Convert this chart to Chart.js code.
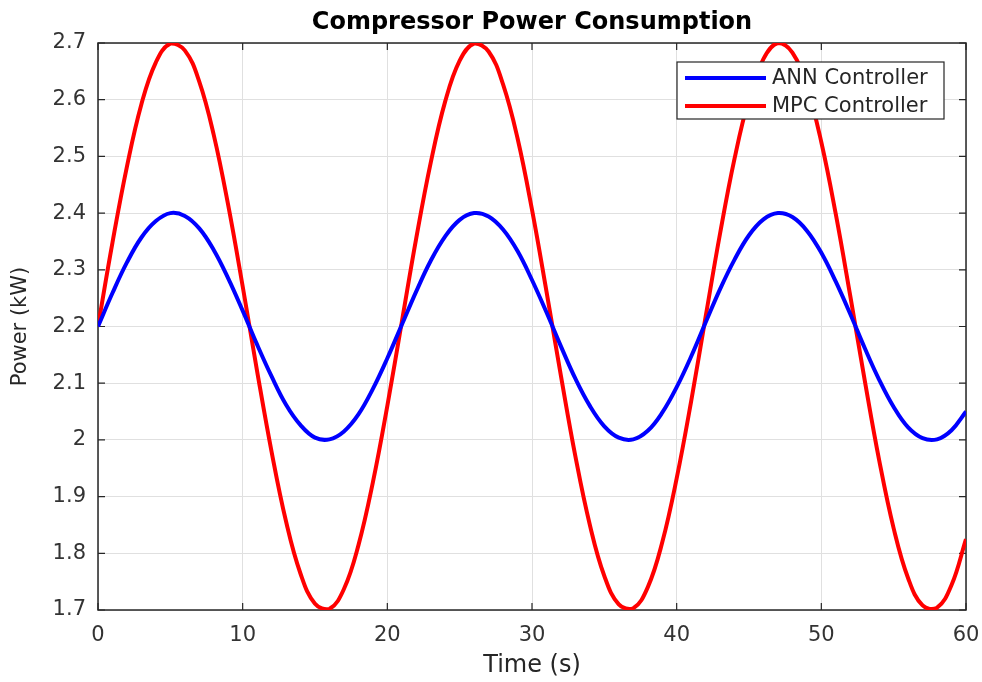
<!DOCTYPE html>
<html>
<head>
<meta charset="utf-8">
<script src="https://cdn.jsdelivr.net/npm/chart.js@4"></script>
<style>
  html, body { margin: 0; padding: 0; background: #fff; }
  #wrap { width: 982px; height: 682px; }
</style>
</head>
<body>
<div id="wrap"><canvas id="powerChart" width="982" height="682"></canvas></div>
<script>
// time axis (s), one sample per second
const timeSec = [];
for (let t = 0; t <= 60; t++) timeSec.push(t);

const annPower = [
  2.200, 2.259, 2.313, 2.357, 2.386, 2.400, 2.395, 2.373, 2.335, 2.285,
  2.228, 2.168, 2.112, 2.062, 2.026, 2.004, 2.001, 2.015, 2.045, 2.090,
  2.144, 2.203, 2.262, 2.316, 2.359, 2.388, 2.400, 2.394, 2.371, 2.333,
  2.282, 2.225, 2.165, 2.108, 2.060, 2.024, 2.004, 2.001, 2.016, 2.048,
  2.093, 2.147, 2.207, 2.266, 2.318, 2.361, 2.389, 2.400, 2.393, 2.369,
  2.330, 2.279, 2.222, 2.162, 2.106, 2.058, 2.022, 2.003, 2.001, 2.017,
  2.050
];
const mpcPower = [
  2.200, 2.348, 2.482, 2.592, 2.666, 2.699, 2.687, 2.632, 2.538, 2.414,
  2.271, 2.121, 1.979, 1.856, 1.764, 1.711, 1.702, 1.737, 1.814, 1.925,
  2.060, 2.208, 2.356, 2.489, 2.597, 2.669, 2.699, 2.685, 2.627, 2.532,
  2.406, 2.262, 2.113, 1.971, 1.850, 1.760, 1.710, 1.703, 1.740, 1.819,
  1.932, 2.068, 2.217, 2.364, 2.496, 2.602, 2.672, 2.700, 2.683, 2.623,
  2.525, 2.398, 2.254, 2.105, 1.964, 1.844, 1.756, 1.708, 1.704, 1.744,
  1.825
];

const seriesLabels = ['ANN Controller', 'MPC Controller'];
const seriesColors = ['#0000ff', '#ff0000'];
const chartTitle = 'Compressor Power Consumption';

const FONT = "'DejaVu Sans', 'Liberation Sans', Arial, sans-serif";
const AXIS_COLOR = '#262626';

function toPoints(ys) {
  return ys.map((y, i) => ({ x: timeSec[i], y: y }));
}

// box, inward ticks (below the curves)
const matlabBox = {
  id: 'matlabBox',
  beforeDatasetsDraw(chart) {
    const { ctx, chartArea: a, scales } = chart;
    const len = 7;
    ctx.save();
    ctx.strokeStyle = AXIS_COLOR;
    ctx.lineWidth = 1.5;
    ctx.strokeRect(a.left, a.top, a.right - a.left, a.bottom - a.top);
    ctx.lineWidth = 1.2;
    ctx.beginPath();
    scales.x.ticks.forEach(tk => {
      const px = scales.x.getPixelForValue(tk.value);
      ctx.moveTo(px, a.bottom); ctx.lineTo(px, a.bottom - len);
      ctx.moveTo(px, a.top); ctx.lineTo(px, a.top + len);
    });
    scales.y.ticks.forEach(tk => {
      const py = scales.y.getPixelForValue(tk.value);
      ctx.moveTo(a.left, py); ctx.lineTo(a.left + len, py);
      ctx.moveTo(a.right, py); ctx.lineTo(a.right - len, py);
    });
    ctx.stroke();
    ctx.restore();
  },
  afterDraw(chart) {
    const { ctx, chartArea: a } = chart;
    ctx.save();
    // title centred over the plot area
    ctx.fillStyle = '#000';
    ctx.font = 'bold 24px ' + FONT;
    ctx.textAlign = 'center';
    ctx.textBaseline = 'middle';
    ctx.fillText(chartTitle, (a.left + a.right) / 2, 23);

    // legend box, top right inside the axes
    const bx = 677, by = 62, bw = 267, bh = 57;
    ctx.fillStyle = '#fff';
    ctx.fillRect(bx, by, bw, bh);
    ctx.strokeStyle = AXIS_COLOR;
    ctx.lineWidth = 1.2;
    ctx.strokeRect(bx, by, bw, bh);
    ctx.font = '21px ' + FONT;
    ctx.textAlign = 'left';
    chart.data.datasets.forEach((ds, i) => {
      const ry = by + 16 + i * 28;
      ctx.strokeStyle = ds.borderColor;
      ctx.lineWidth = 4;
      ctx.beginPath();
      ctx.moveTo(bx + 8, ry); ctx.lineTo(bx + 89, ry);
      ctx.stroke();
      ctx.fillStyle = '#262626';
      ctx.fillText(ds.label, bx + 95, ry + 1);
    });
    ctx.restore();
  }
};

new Chart(document.getElementById('powerChart'), {
  type: 'line',
  data: {
    datasets: [
      { label: seriesLabels[0], data: toPoints(annPower), borderColor: seriesColors[0],
        borderWidth: 4, pointRadius: 0, tension: 0.4, fill: false },
      { label: seriesLabels[1], data: toPoints(mpcPower), borderColor: seriesColors[1],
        borderWidth: 4, pointRadius: 0, tension: 0.4, fill: false }
    ]
  },
  options: {
    responsive: false,
    animation: false,
    events: [],
    layout: { padding: { top: 43, right: 16, bottom: 0, left: 0 } },
    plugins: { legend: { display: false }, title: { display: false }, tooltip: { enabled: false } },
    scales: {
      x: {
        type: 'linear', min: 0, max: 60,
        ticks: { stepSize: 10, padding: 13, color: '#333', font: { family: FONT, size: 21 } },
        grid: { color: '#e0e0e0', lineWidth: 1, drawTicks: false },
        border: { display: false },
        title: { display: true, text: 'Time (s)', color: '#262626',
                 font: { family: FONT, size: 24 }, padding: { top: 0, bottom: 2 } },
        afterFit(scale) { scale.height = 72; scale.paddingLeft = 0; scale.paddingRight = 0; }
      },
      y: {
        type: 'linear', min: 1.7, max: 2.7,
        ticks: { stepSize: 0.1, padding: 12, color: '#333', font: { family: FONT, size: 21 },
                 callback: v => String(Math.round(v * 10) / 10) },
        grid: { color: '#e0e0e0', lineWidth: 1, drawTicks: false },
        border: { display: false },
        title: { display: true, text: 'Power (kW)', color: '#262626',
                 font: { family: FONT, size: 21 }, padding: { top: 8, bottom: 0 } },
        afterFit(scale) { scale.width = 98; }
      }
    }
  },
  plugins: [matlabBox]
});
</script>
</body>
</html>
